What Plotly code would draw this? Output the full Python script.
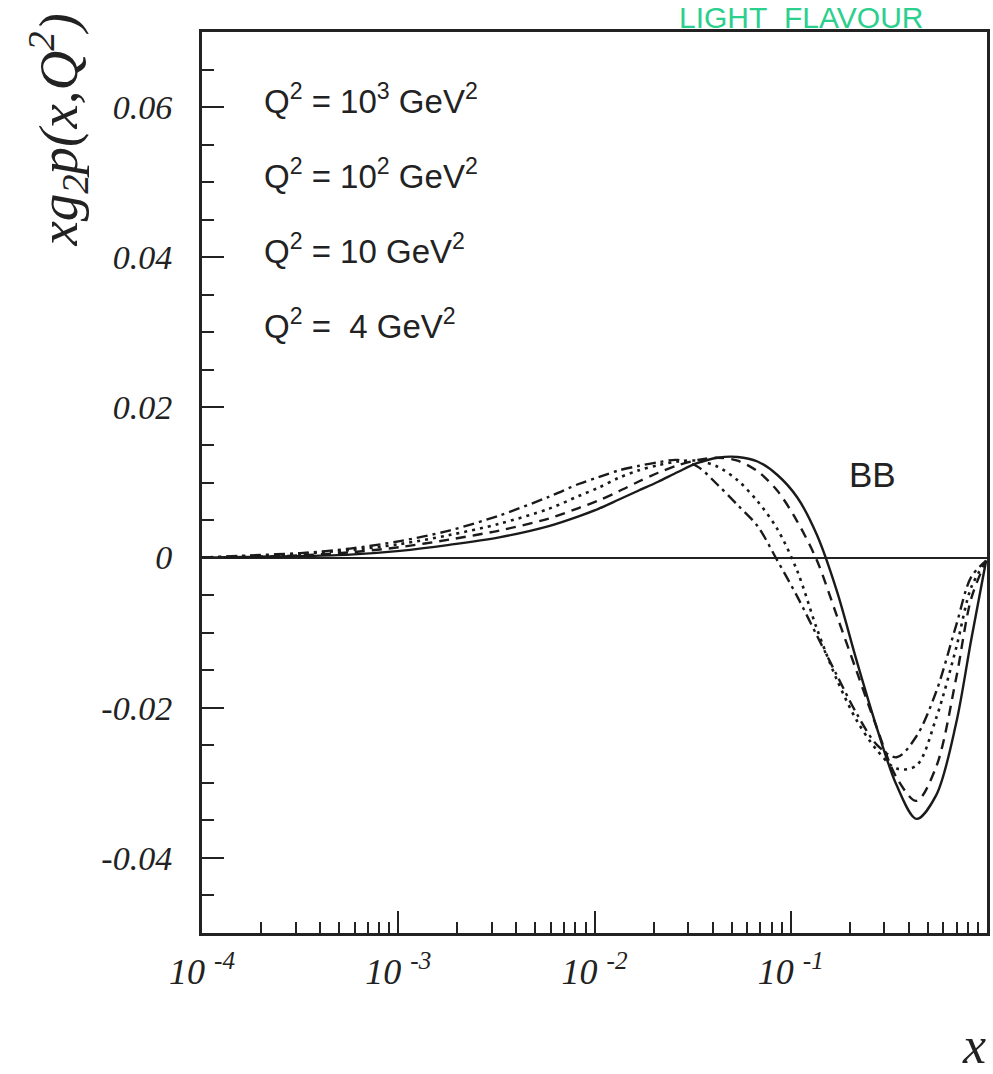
import plotly.graph_objects as go

# ---------------- data ----------------
x_vals = [1.0e-4, 1.77e-4, 3.17e-4, 5.68e-4, 1.02e-3, 1.82e-3, 3.27e-3, 5.85e-3, 8.30e-3,
          1.047e-2, 1.324e-2, 1.67e-2, 2.11e-2, 2.66e-2, 3.36e-2, 4.24e-2, 5.36e-2, 6.77e-2,
          8.55e-2, 0.108, 0.136, 0.172, 0.217, 0.274, 0.346, 0.437, 0.552, 0.697, 0.830, 0.99]

g2_q4 = [0.0, 0.0001, 0.0002, 0.0004, 0.0009, 0.0017, 0.0027, 0.0042, 0.0055, 0.0065, 0.0077,
         0.0089, 0.0101, 0.0114, 0.0126, 0.0133, 0.0134, 0.0128, 0.0110, 0.0080, 0.0030,
         -0.0045, -0.0138, -0.0226, -0.0303, -0.0348, -0.0316, -0.0220, -0.0110, -0.0004]
g2_q10 = [0.0, 0.0001, 0.0003, 0.0007, 0.0014, 0.0024, 0.0036, 0.0052, 0.0066, 0.0076, 0.0088,
          0.0101, 0.0113, 0.0123, 0.0130, 0.0133, 0.0129, 0.0115, 0.0089, 0.0048, -0.0004,
          -0.0078, -0.0152, -0.0226, -0.0293, -0.0324, -0.0278, -0.0160, -0.0055, -0.0004]
g2_q100 = [0.0, 0.0002, 0.0005, 0.0010, 0.0018, 0.0030, 0.0045, 0.0065, 0.0082, 0.0093, 0.0106,
           0.0116, 0.0123, 0.0128, 0.0129, 0.0121, 0.0103, 0.0075, 0.0038, -0.0018, -0.0095,
           -0.0163, -0.0217, -0.0256, -0.0281, -0.0277, -0.0213, -0.0120, -0.0040, -0.0004]
g2_q1000 = [0.0, 0.0003, 0.0006, 0.0012, 0.0022, 0.0036, 0.0056, 0.0081, 0.0098, 0.0107, 0.0116,
            0.0122, 0.0127, 0.0130, 0.0121, 0.0097, 0.0070, 0.0042, -0.0004, -0.0052, -0.0104,
            -0.0157, -0.0208, -0.0249, -0.0266, -0.0238, -0.0178, -0.0090, -0.0026, -0.0004]

series_names = ["Q² = 4 GeV²", "Q² = 10 GeV²", "Q² = 10² GeV²", "Q² = 10³ GeV²"]
legend_lines = ["Q<sup>2</sup> = 10<sup>3</sup> GeV<sup>2</sup>",
                "Q<sup>2</sup> = 10<sup>2</sup> GeV<sup>2</sup>",
                "Q<sup>2</sup> = 10 GeV<sup>2</sup>",
                "Q<sup>2</sup> =\u00a0\u00a04 GeV<sup>2</sup>"]

y_tickvals = [-0.04, -0.02, 0, 0.02, 0.04, 0.06]
y_ticktext = ["-0.04", "-0.02", "0", "0.02", "0.04", "0.06"]
x_tickvals = [1e-4, 1e-3, 1e-2, 1e-1]
x_ticktext = ["10\u00a0<sup>-4</sup>", "10\u00a0<sup>-3</sup>", "10\u00a0<sup>-2</sup>", "10\u00a0<sup>-1</sup>"]
x_minor = [m * 10.0 ** e for e in (-4, -3, -2, -1) for m in range(2, 10)]

# ---------------- figure ----------------
W, H = 993, 1074
L, R, T, B = 202, 3, 32, 141
pw, ph = W - L - R, H - T - B

def px(xp):
    return (xp - L) / pw

def py(yp):
    return (H - B - yp) / ph

styles = [
    dict(dash="solid", width=2.4),
    dict(dash="10px,7px", width=2.4),
    dict(dash="3px,5px", width=2.6),
    dict(dash="11px,5px,3px,5px", width=2.4),
]
ys = [g2_q4, g2_q10, g2_q100, g2_q1000]

fig = go.Figure()
for name, yv, st in zip(series_names, ys, styles):
    fig.add_trace(go.Scatter(x=x_vals, y=yv, mode="lines", name=name,
                             line=dict(color="#1a1a1a", shape="spline", smoothing=0.9, **st),
                             showlegend=False))

serif_it = dict(family="Liberation Serif, Times New Roman, serif", style="italic", color="#222")

fig.update_layout(
    width=W, height=H,
    margin=dict(l=L, r=R, t=T, b=B, pad=0),
    paper_bgcolor="white", plot_bgcolor="white",
    showlegend=False,
)
fig.update_xaxes(
    type="log", range=[-4, 0],
    showline=True, linecolor="#222", linewidth=3, mirror=True,
    showgrid=False, zeroline=False,
    ticks="inside", ticklen=22, tickwidth=2, tickcolor="#222",
    tickmode="array", tickvals=x_tickvals, ticktext=x_ticktext,
    tickfont=dict(size=36, **serif_it), ticklabelstandoff=5,
    minor=dict(tickmode="array", tickvals=x_minor, ticks="inside", ticklen=11,
               tickwidth=2, tickcolor="#222", showgrid=False),
)
fig.update_yaxes(
    range=[-0.05, 0.07],
    showline=True, linecolor="#222", linewidth=3, mirror=True,
    showgrid=False, zeroline=True, zerolinecolor="#222", zerolinewidth=1.6,
    ticks="inside", ticklen=22, tickwidth=2, tickcolor="#222",
    tickmode="array", tickvals=y_tickvals, ticktext=y_ticktext,
    tickfont=dict(size=34, **serif_it), ticklabelstandoff=20,
    minor=dict(tickmode="linear", tick0=0, dtick=0.005, ticks="inside", ticklen=12,
               tickwidth=2, tickcolor="#222", showgrid=False),
)

sans = dict(family="Liberation Sans, Arial, sans-serif", color="#222")
row_y = [99, 174, 249, 324]
for txt, yy in zip(legend_lines, row_y):
    fig.add_annotation(xref="paper", yref="paper", x=px(262), y=py(yy), text=txt,
                       showarrow=False, xanchor="left", yanchor="middle",
                       font=dict(size=33, **sans))

fig.add_annotation(xref="paper", yref="paper", x=px(875), y=py(474), text="BB",
                   showarrow=False, xanchor="center", yanchor="middle",
                   font=dict(size=35, **sans))

fig.add_annotation(xref="paper", yref="paper", x=px(57), y=py(130),
                   text="xg<sub>2</sub>p(x,Q<sup>2</sup>)", textangle=-90,
                   showarrow=False, xanchor="center", yanchor="middle",
                   font=dict(size=55, **serif_it))

fig.add_annotation(xref="paper", yref="paper", x=px(977), y=py(1045), text="x",
                   showarrow=False, xanchor="center", yanchor="middle",
                   font=dict(size=52, **serif_it))

fig.add_annotation(xref="paper", yref="paper", x=px(680), y=py(17),
                   text="LIGHT\u00a0\u00a0FLAVOUR", showarrow=False, borderpad=0,
                   xanchor="left", yanchor="middle",
                   font=dict(size=30, family="Liberation Sans, Arial, sans-serif", color="#2bd08e"))

fig.write_html("out.html")
